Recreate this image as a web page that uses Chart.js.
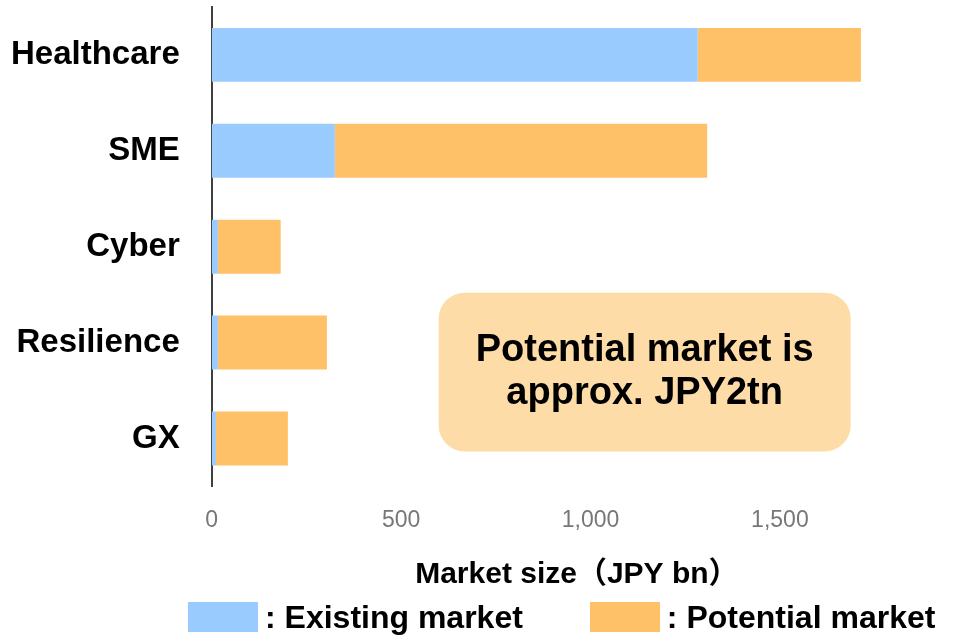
<!DOCTYPE html>
<html>
<head>
<meta charset="utf-8">
<script src="https://cdn.jsdelivr.net/npm/chart.js@4/dist/chart.umd.min.js"></script>
<style>
  html, body { margin: 0; padding: 0; background: #ffffff; }
  #wrap { width: 953px; height: 635px; position: relative; }
  #legend {
    position: absolute; left: 188px; top: 600px; height: 34px;
    display: flex; align-items: center; gap: 67px;
    font: bold 32px 'Liberation Sans', 'Noto Sans CJK JP', sans-serif; color: #000;
  }
  #legend .item { display: flex; align-items: center; gap: 7px; white-space: nowrap; }
  #legend .swatch { width: 70px; height: 30px; display: inline-block; }
</style>
</head>
<body>
<div id="wrap">
  <canvas id="marketChart"></canvas>
  <div id="legend"></div>
</div>
<script>
  "use strict";

  // categories and values (JPY bn)
  const categories = ["Healthcare", "SME", "Cyber", "Resilience", "GX"];
  const existingMarket = [1283, 325, 16, 16, 11];
  const potentialMarket = [431, 983, 166, 288, 190];
  const xTicks = [0, 500, 1000, 1500];
  const calloutLines = ["Potential market is", "approx. JPY2tn"];

  const FONT = "'Liberation Sans', 'Noto Sans CJK JP', sans-serif";
  const BLUE = "#99CBFF";
  const ORANGE = "#FFC167";

  // rounded callout box, placed in data coordinates
  const calloutPlugin = {
    id: "callout",
    afterDatasetsDraw(chart) {
      const { ctx, scales } = chart;
      const x0 = scales.x.getPixelForValue(599);
      const x1 = scales.x.getPixelForValue(1687);
      const y0 = scales.y.getPixelForValue(2.48);
      const y1 = scales.y.getPixelForValue(4.135);
      ctx.save();
      ctx.fillStyle = "#FDDCA8";
      ctx.beginPath();
      ctx.roundRect(x0, y0, x1 - x0, y1 - y0, 26);
      ctx.fill();
      ctx.fillStyle = "#000000";
      ctx.font = "bold 38px " + FONT;
      ctx.textAlign = "center";
      ctx.textBaseline = "middle";
      const cx = (x0 + x1) / 2;
      const cy = (y0 + y1) / 2;
      calloutLines.forEach((line, i) => {
        ctx.fillText(line, cx, cy + (i - (calloutLines.length - 1) / 2) * 43);
      });
      ctx.restore();
    }
  };

  const canvas = document.getElementById("marketChart");
  const chart = new Chart(canvas, {
    type: "bar",
    data: {
      labels: categories,
      datasets: [
        {
          label: ": Existing market",
          data: existingMarket,
          backgroundColor: BLUE,
          borderWidth: 0,
          barPercentage: 0.5625,
          categoryPercentage: 1
        },
        {
          label: ": Potential market",
          data: potentialMarket,
          backgroundColor: ORANGE,
          borderWidth: 0,
          barPercentage: 0.5625,
          categoryPercentage: 1
        }
      ]
    },
    options: {
      indexAxis: "y",
      responsive: true,
      maintainAspectRatio: false,
      animation: false,
      layout: { padding: { top: 0, right: 11, left: 9, bottom: 42 } },
      plugins: {
        tooltip: { enabled: false },
        legend: { display: false }
      },
      scales: {
        x: {
          stacked: true,
          min: 0,
          max: 1928,
          afterBuildTicks: (axis) => {
            axis.ticks = xTicks.map((v) => ({ value: v }));
          },
          grid: { display: false, drawTicks: true, tickLength: 20 },
          border: { display: false },
          ticks: {
            color: "#777777",
            padding: 0,
            font: { family: FONT, size: 23 },
            callback: (v) => Number(v).toLocaleString("en-US")
          },
          title: {
            display: true,
            text: "Market size（JPY bn）",
            color: "#000000",
            font: { family: FONT, size: 30, weight: "bold" },
            padding: { top: 23, bottom: 0 }
          }
        },
        y: {
          stacked: true,
          grid: { display: false, drawTicks: true, tickLength: 30 },
          border: { display: true, color: "#404040", width: 2 },
          ticks: {
            color: "#000000",
            padding: 2,
            font: { family: FONT, size: 33, weight: "bold", lineHeight: 0.3 }
          }
        }
      }
    },
    plugins: [calloutPlugin]
  });

  // html legend built from the datasets
  const legendEl = document.getElementById("legend");
  chart.data.datasets.forEach((ds) => {
    const item = document.createElement("span");
    item.className = "item";
    const sw = document.createElement("span");
    sw.className = "swatch";
    sw.style.background = ds.backgroundColor;
    const txt = document.createElement("span");
    txt.textContent = ds.label;
    item.appendChild(sw);
    item.appendChild(txt);
    legendEl.appendChild(item);
  });
</script>
</body>
</html>
